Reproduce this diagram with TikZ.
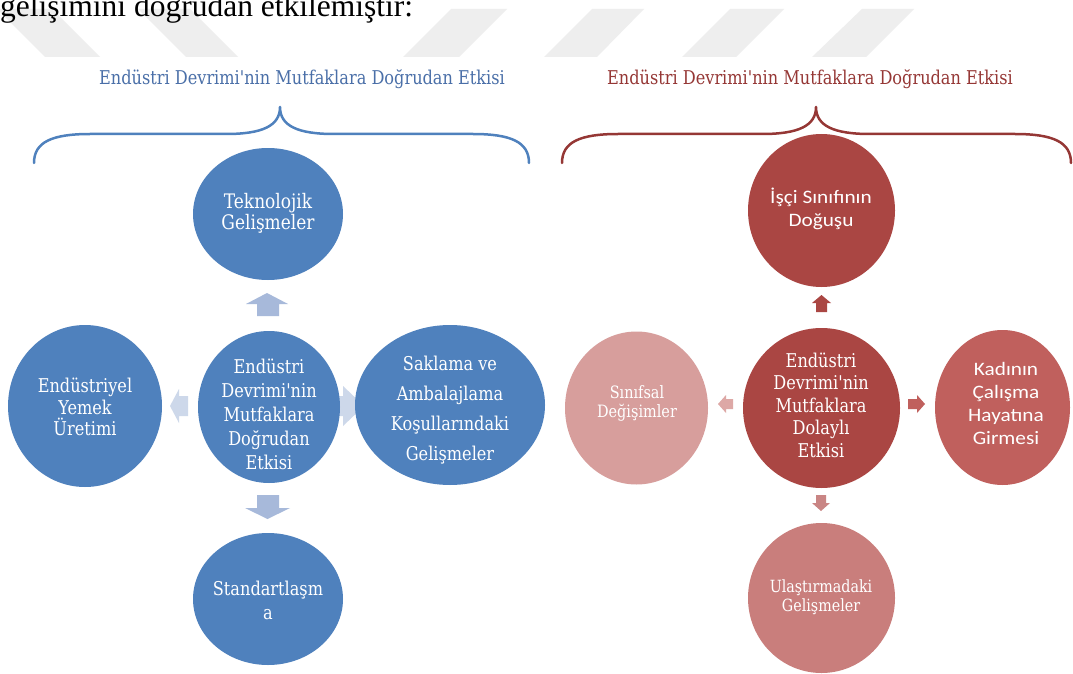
\documentclass[tikz,border=0pt]{standalone}
\usepackage{fontspec}
\setmainfont{Liberation Serif}
\newfontfamily\slab[FakeStretch=0.85]{DejaVu Serif}
\newfontfamily\calib[FakeStretch=1.12]{Carlito}
\usetikzlibrary{shapes.geometric}

\definecolor{bluefill}{HTML}{4F81BD}
\definecolor{bluearrow}{HTML}{A7B9DA}
\definecolor{bluearrowlight}{HTML}{CDD8EA}
\definecolor{bluehead}{HTML}{4A6FA8}
\definecolor{redbrace}{HTML}{953735}
\definecolor{redmain}{HTML}{AA4643}
\definecolor{redmid}{HTML}{C0605D}
\definecolor{redsoft}{HTML}{C97E7C}
\definecolor{redpale}{HTML}{D79E9C}
\definecolor{redarrowpale}{HTML}{DDA8A6}
\definecolor{redarrowsoft}{HTML}{C98584}
\definecolor{wm}{HTML}{EEEEEE}

\tikzset{
  blob/.style={ellipse, inner sep=0pt, outer sep=0pt, draw=none},
  serifwhite/.style={text=white, align=center, inner sep=0pt},
  bracestroke/.style={line width=2.5pt, line cap=round, line join=round},
  headtext/.style={inner sep=0pt, font=\slab\fontsize{19}{19}\selectfont}
}

\begin{document}
\begin{tikzpicture}[x=1pt, y=-1pt]
\useasboundingbox (0,0) rectangle (1073,674);
\clip (0,0) rectangle (1073,674);
\fill[white] (0,0) rectangle (1073,674);

% watermark stripes behind the page text
\fill[wm] (-3,9) -- (52,9) -- (100,57) -- (45,57) -- cycle;
\fill[wm] (138,9) -- (190,9) -- (238,57) -- (186,57) -- cycle;
\fill[wm] (451,9) -- (507,9) -- (459,57) -- (403,57) -- cycle;
\fill[wm] (592,9) -- (644,9) -- (597,57) -- (544,57) -- cycle;
\fill[wm] (730,9) -- (784,9) -- (736,57) -- (682,57) -- cycle;
\fill[wm] (862,9) -- (914,9) -- (866,57) -- (812,57) -- cycle;

% running text of the page
\node[anchor=base west, inner sep=0pt, font=\fontsize{31.5}{31.5}\selectfont] (pagetext) at (0,17) {gelişimini doğrudan etkilemiştir:};

% headings
\node[headtext, text=bluehead] (headL) at (302,79) {Endüstri Devrimi'nin Mutfaklara Doğrudan Etkisi};
\node[headtext, text=redbrace] (headR) at (810,79) {Endüstri Devrimi'nin Mutfaklara Doğrudan Etkisi};

% braces
\draw[bracestroke, bluefill] (34,163) .. controls (34,142) and (52,134) .. (90,134) -- (226,134)
  .. controls (262,134) and (280,126) .. (280,107)
  .. controls (280,126) and (298,134) .. (334,134) -- (473,134)
  .. controls (511,134) and (529,142) .. (529,163);
\draw[bracestroke, redbrace] (562,163) .. controls (562,142) and (580,134) .. (618,134) -- (762,134)
  .. controls (798,134) and (816,126) .. (816,107)
  .. controls (816,126) and (834,134) .. (870,134) -- (1015,134)
  .. controls (1053,134) and (1071,142) .. (1071,163);

% block arrows, left group
\fill[bluearrow] (267,293) -- (288,304) -- (279,304) -- (279,316) -- (257,316) -- (257,304) -- (246,304) -- cycle;
\fill[bluearrow] (257,495) -- (279,495) -- (279,508) -- (290,508) -- (267.5,519) -- (245,508) -- (257,508) -- cycle;
\fill[bluearrowlight] (170,406) -- (179,389) -- (179,396) -- (188,396) -- (188,416) -- (179,416) -- (179,423) -- cycle;
\fill[bluearrowlight] (330,396) -- (343,396) -- (343,386) -- (364,406) -- (343,426) -- (343,416) -- (330,416) -- cycle;

% block arrows, right group
\fill[redmain] (821.5,295) -- (831,303) -- (827,303) -- (827,312) -- (816,312) -- (816,303) -- (812,303) -- cycle;
\fill[redarrowsoft] (816,495) -- (826,495) -- (826,503) -- (830,503) -- (821,511) -- (812,503) -- (816,503) -- cycle;
\fill[redarrowpale] (718,404) -- (726,395) -- (726,399) -- (733,399) -- (733,409) -- (726,409) -- (726,413) -- cycle;
\fill[redmid] (925,404) -- (917,395) -- (917,399) -- (908,399) -- (908,409) -- (917,409) -- (917,413) -- cycle;

% left group circles
\node[blob, fill=bluefill, minimum width=150pt, minimum height=132pt] (tek) at (268,214) {};
\node[blob, fill=bluefill, minimum width=154pt, minimum height=162pt] (yem) at (85,406) {};
\node[blob, fill=bluefill, minimum width=142pt, minimum height=152pt] (mid) at (269,407) {};
\node[blob, fill=bluefill, minimum width=190pt, minimum height=160pt] (sak) at (450,405) {};
\node[blob, fill=bluefill, minimum width=150pt, minimum height=132pt] (std) at (268,599) {};

\node[serifwhite, font=\slab\fontsize{20}{21}\selectfont] (tek-t) at (268,213) {Teknolojik\\Gelişmeler};
\node[serifwhite, font=\slab\fontsize{19}{21.5}\selectfont] (yem-t) at (85,407) {Endüstriyel\\Yemek\\Üretimi};
\node[serifwhite, font=\slab\fontsize{19}{24}\selectfont] (mid-t) at (269,414) {Endüstri\\Devrimi'nin\\Mutfaklara\\Doğrudan\\Etkisi};
\node[serifwhite, font=\slab\fontsize{19}{30}\selectfont] (sak-t) at (450,410) {Saklama ve\\Ambalajlama\\Koşullarındaki\\Gelişmeler};
\node[serifwhite, font=\slab\fontsize{19}{24}\selectfont] (std-t) at (268,600) {Standartlaşm\\a};

% right group circles
\node[blob, fill=redmain, minimum width=147pt, minimum height=153pt] (isci) at (821.5,210.5) {};
\node[blob, fill=redmain, minimum width=157pt, minimum height=160pt] (rmid) at (821.5,408) {};
\node[blob, fill=redpale, minimum width=143pt, minimum height=153pt] (sinif) at (636.5,408) {};
\node[blob, fill=redmid, minimum width=135pt, minimum height=155pt] (kadin) at (1002.5,407.5) {};
\node[blob, fill=redsoft, minimum width=147pt, minimum height=150pt] (ulas) at (821.5,598) {};

\node[serifwhite, font=\calib\fontsize{19}{23}\selectfont] (isci-t) at (821,209) {İşçi Sınıfının\\Doğuşu};
\node[serifwhite, font=\slab\fontsize{19}{22.5}\selectfont] (rmid-t) at (821,405) {Endüstri\\Devrimi'nin\\Mutfaklara\\Dolaylı\\Etkisi};
\node[serifwhite, font=\slab\fontsize{17}{19}\selectfont] (sinif-t) at (637,403) {Sınıfsal\\Değişimler};
\node[serifwhite, font=\calib\fontsize{19}{23}\selectfont] (kadin-t) at (1006,403) {Kadının\\Çalışma\\Hayatına\\Girmesi};
\node[serifwhite, font=\slab\fontsize{16.8}{18.5}\selectfont] (ulas-t) at (821,597) {Ulaştırmadaki\\Gelişmeler};
\end{tikzpicture}
\end{document}
